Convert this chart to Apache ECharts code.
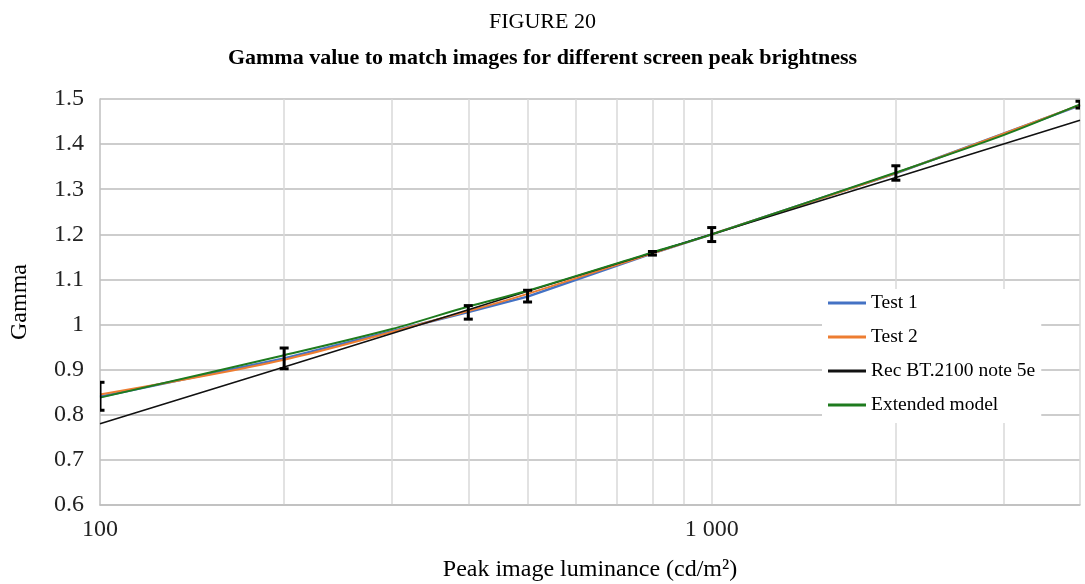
<!DOCTYPE html>
<html><head><meta charset="utf-8">
<script src="https://cdn.jsdelivr.net/npm/echarts@6/dist/echarts.min.js"></script>
<style>html,body{margin:0;padding:0;background:#fff}#c{width:1085px;height:584px}</style>
</head><body><div id="c"></div>
<script>
const luminance = [100, 200, 400, 500, 800, 1000, 2000, 4000];
const test1 = [0.840, 0.925, 1.028, 1.062, 1.158, 1.200, 1.335, 1.486];
const test2 = [0.845, 0.922, 1.030, 1.068, 1.158, 1.200, 1.336, 1.487];
const errLow = [0.810, 0.902, 1.012, 1.050, 1.154, 1.184, 1.320, 1.480];
const errHigh = [0.872, 0.948, 1.042, 1.076, 1.162, 1.215, 1.352, 1.495];
const recBT2100 = [0.780, 0.906, 1.033, 1.074, 1.159, 1.200, 1.326, 1.453];
const extLum = [100, 200, 300, 400, 500, 800, 1000, 2000, 3000, 4000];
const extended = [0.838, 0.932, 0.990, 1.040, 1.075, 1.160, 1.200, 1.337, 1.420, 1.488];
const minorGridX = [200, 300, 400, 500, 600, 700, 800, 900, 1000, 2000, 3000, 4000];
const xTickLabels = {100: '100', 1000: '1 000'};

const pairs = (xs, ys) => xs.map((x, i) => [x, ys[i]]);
const serif = '"Liberation Serif", "DejaVu Serif", serif';

const chart = echarts.init(document.getElementById('c'));
chart.setOption({
  animation: false,
  backgroundColor: '#fff',
  title: [
    {text: 'FIGURE 20', left: 'center', top: 6,
     textStyle: {fontFamily: serif, fontSize: 22, fontWeight: 'normal', color: '#000'}},
    {text: 'Gamma value to match images for different screen peak brightness', left: 'center', top: 42,
     textStyle: {fontFamily: serif, fontSize: 22, fontWeight: 'bold', color: '#000'}}
  ],
  grid: {left: 100, right: 5, top: 99, bottom: 79, containLabel: false, outerBoundsMode: 'none'},
  legend: {
    orient: 'vertical', left: 822, top: 289,
    backgroundColor: '#fff', padding: [4, 6, 8, 6],
    itemWidth: 38, itemHeight: 3, itemGap: 14, icon: 'rect',
    textStyle: {fontFamily: serif, fontSize: 19.5, color: '#000'},
    data: ['Test 1', 'Test 2', 'Rec BT.2100 note 5e', 'Extended model']
  },
  xAxis: {
    type: 'log', logBase: 10, min: 100, max: 4000,
    name: 'Peak image luminance (cd/m²)', nameLocation: 'middle', nameGap: 53,
    nameTextStyle: {fontFamily: serif, fontSize: 24, color: '#000'},
    axisLine: {show: true, lineStyle: {color: '#bfbfbf', width: 1.5}},
    axisTick: {show: false},
    splitLine: {show: false},
    axisLabel: {fontFamily: serif, fontSize: 24, color: '#222', margin: 13,
      showMaxLabel: false,
      formatter: v => xTickLabels[Math.round(v)] || ''}
  },
  yAxis: {
    type: 'value', min: 0.6, max: 1.5, interval: 0.1,
    name: 'Gamma', nameLocation: 'middle', nameGap: 68,
    nameTextStyle: {fontFamily: serif, fontSize: 24, color: '#000'},
    axisLine: {show: true, lineStyle: {color: '#bfbfbf', width: 1.5}},
    axisTick: {show: false},
    splitLine: {show: true, lineStyle: {color: '#bdbdbd', width: 1.5}},
    axisLabel: {fontFamily: serif, fontSize: 24, color: '#222', margin: 16,
      formatter: v => String(Math.round(v * 10) / 10)}
  },
  series: [
    {name: 'Test 1', type: 'line', data: pairs(luminance, test1), symbol: 'none',
     lineStyle: {color: '#4472C4', width: 2.5}, itemStyle: {color: '#4472C4'}, z: 2,
     markLine: {silent: true, symbol: 'none', label: {show: false},
       lineStyle: {color: '#d9d9d9', width: 1.5, type: 'solid'},
       data: minorGridX.map(x => ({xAxis: x})), z: 0}},
    {name: 'Test 2', type: 'line', data: pairs(luminance, test2), symbol: 'none', smooth: 0.3,
     lineStyle: {color: '#ED7D31', width: 2}, itemStyle: {color: '#ED7D31'}, z: 3},
    {name: 'Rec BT.2100 note 5e', type: 'line', data: pairs(luminance, recBT2100), symbol: 'none',
     lineStyle: {color: '#111', width: 1.6}, itemStyle: {color: '#111'}, z: 4},
    {name: 'Extended model', type: 'line', data: pairs(extLum, extended), symbol: 'none', smooth: 0.3,
     lineStyle: {color: '#1E7B1E', width: 2}, itemStyle: {color: '#1E7B1E'}, z: 5},
    {name: 'errors', type: 'custom', z: 6, clip: true,
     data: luminance.map((x, i) => [x, errLow[i], errHigh[i]]),
     renderItem: (params, api) => {
       const lo = api.coord([api.value(0), api.value(1)]);
       const hi = api.coord([api.value(0), api.value(2)]);
       const w = 4.5;
       const st = {stroke: '#000', lineWidth: 3};
       return {type: 'group', children: [
         {type: 'line', shape: {x1: lo[0], y1: lo[1], x2: hi[0], y2: hi[1]}, style: st},
         {type: 'line', shape: {x1: lo[0] - w, y1: lo[1], x2: lo[0] + w, y2: lo[1]}, style: st},
         {type: 'line', shape: {x1: hi[0] - w, y1: hi[1], x2: hi[0] + w, y2: hi[1]}, style: st}
       ]};
     }}
  ]
});
</script></body></html>
